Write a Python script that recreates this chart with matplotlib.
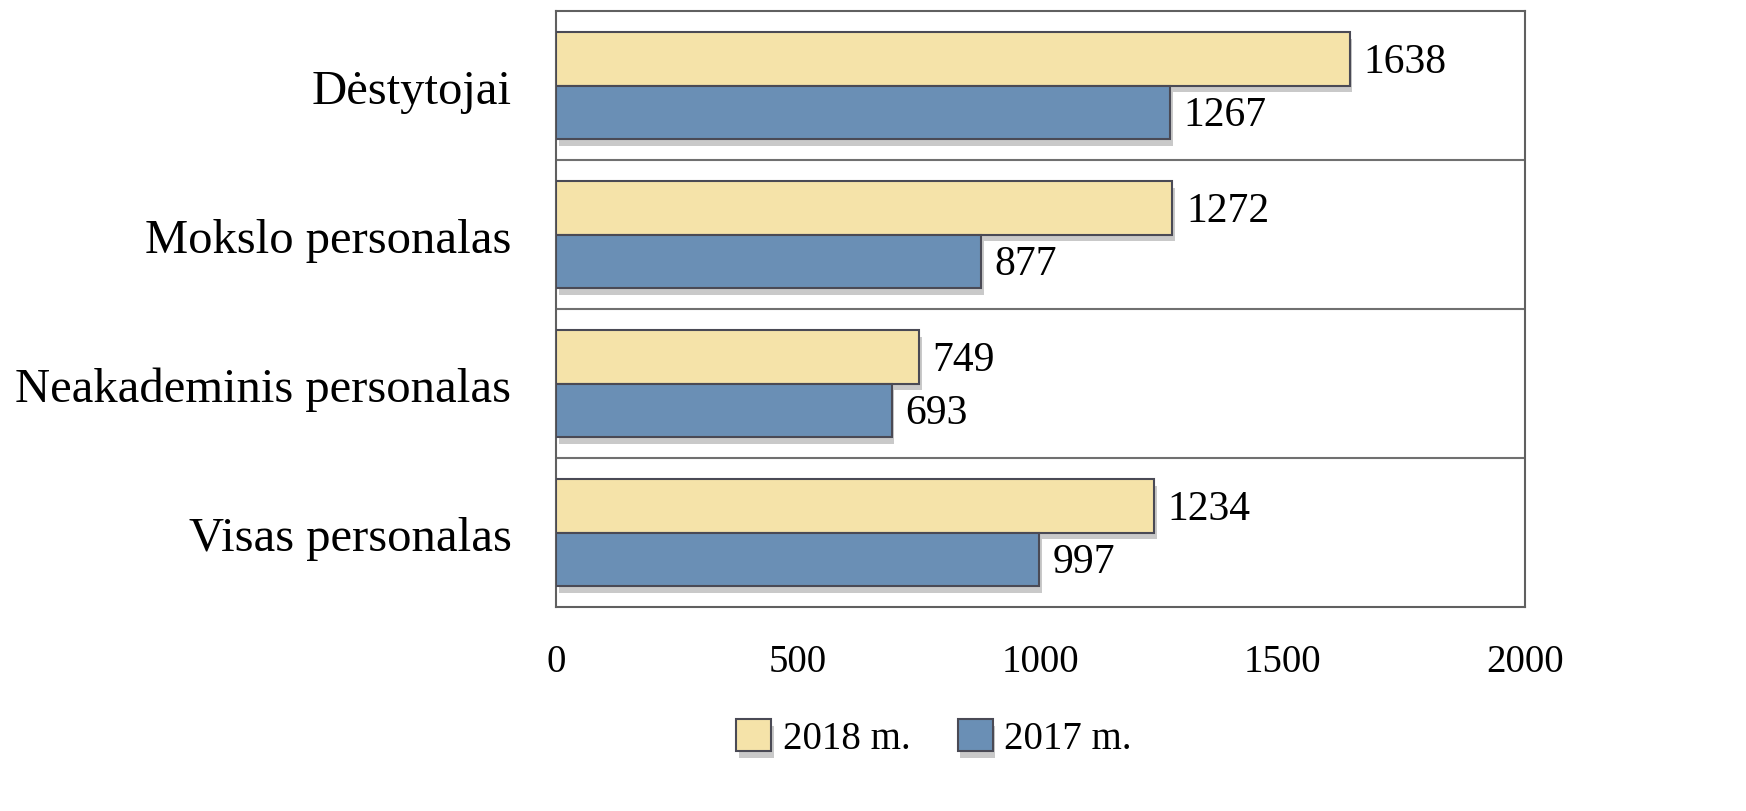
import matplotlib
matplotlib.use("Agg")
import matplotlib.pyplot as plt
import matplotlib.patheffects as pe
import numpy as np

categories = ["Dėstytojai", "Mokslo personalas", "Neakademinis personalas", "Visas personalas"]
values_2018 = [1638, 1272, 749, 1234]
values_2017 = [1267, 877, 693, 997]
series_names = ["2018 m.", "2017 m."]
xticks = [0, 500, 1000, 1500, 2000]

plt.rcParams['font.family'] = ['Liberation Serif', 'DejaVu Serif']

fig = plt.figure(figsize=(17.46, 8.12), dpi=100)
ax = fig.add_axes([0.3184, 0.2512, 0.8734 - 0.3184, 0.9852 - 0.2512])

y = np.arange(len(categories))
h = 0.36
yellow = "#F5E3A9"
blue = "#6A8FB5"
edge = "#4a4a55"
shadow = [pe.SimplePatchShadow(offset=(2, -5), shadow_rgbFace="#888888", alpha=0.45), pe.Normal()]

b1 = ax.barh(y - h / 2, values_2018, height=h, color=yellow, edgecolor=edge, linewidth=1.5,
             label=series_names[0], path_effects=shadow, zorder=3)
b2 = ax.barh(y + h / 2, values_2017, height=h, color=blue, edgecolor=edge, linewidth=1.5,
             label=series_names[1], path_effects=shadow, zorder=3)

for bars, vals in ((b1, values_2018), (b2, values_2017)):
    for rect, v in zip(bars, vals):
        ax.annotate(str(v), (rect.get_width(), rect.get_y() + rect.get_height() / 2),
                    xytext=(10, -2), textcoords="offset points", va="center", ha="left",
                    fontsize=30, zorder=4)

ax.set_xlim(0, 2000)
ax.set_ylim(len(categories) - 0.5, -0.5)
ax.set_xticks(xticks)
ax.set_xticklabels([str(t) for t in xticks], fontsize=28)
ax.set_yticks(y)
ax.set_yticklabels(categories, fontsize=35)
ax.tick_params(axis='x', length=0, pad=26)
ax.tick_params(axis='y', length=0, pad=32)

for b in np.arange(0.5, len(categories) - 0.5, 1.0):
    ax.axhline(b, color="#707070", linewidth=1.5, zorder=1)

for s in ax.spines.values():
    s.set_color("#606060")
    s.set_linewidth(1.5)

fig.legend(handles=[b1, b2], labels=series_names, loc="center", bbox_to_anchor=(0.535, 0.09),
           ncol=2, frameon=False, fontsize=28, handlelength=0.9, handleheight=0.9,
           handletextpad=0.3, columnspacing=1.2)

fig.savefig("out.png", dpi=100)
